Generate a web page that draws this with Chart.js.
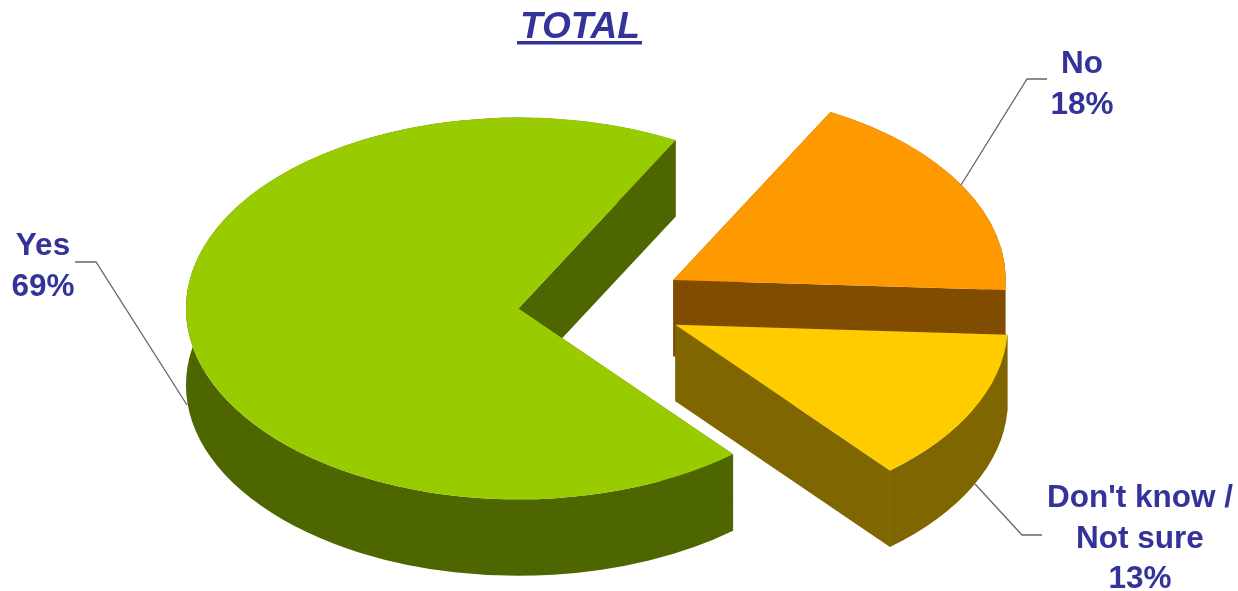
<!DOCTYPE html>
<html>
<head>
<meta charset="utf-8">
<style>html,body{margin:0;padding:0;background:#fff}#wrap{width:1238px;height:591px}</style>
<script src="https://cdn.jsdelivr.net/npm/chart.js@4"></script>
</head>
<body>
<div id="wrap"><canvas id="c" width="1238" height="591"></canvas></div>
<script>
const chartTitle = 'TOTAL';
const categories = ['Yes', 'No', "Don't know /\nNot sure"];
const values = [69, 18, 13];
const topColors = ['#99CC00', '#FF9900', '#FFCC00'];
const sideColors = ['#4D6600', '#804D00', '#806600'];

// presentation only
const TILT = 0.574, DEPTH = 76.5, EXPLODE = 83, RADIUS = 332.5, ROTATION = 139.8;
const INK = '#333399', LINE = '#666666';
const FONT = 'bold 31.5px "Liberation Sans", Arial, sans-serif';
const labelBoxes = [
  {x: 43, y: 255, leader: [[75, 262], [96, 262], [187, 405]]},
  {x: 1082, y: 73, leader: [[1047, 79], [1027, 79], [961, 185]]},
  {x: 1140, y: 507, leader: [[1042, 535], [1022, 535], [975, 484]]}
];
const LINE_H = 40.7;

function centreOf(arc) {
  const mid = (arc.startAngle + arc.endAngle) / 2;
  return {
    x: arc.x + Math.cos(mid) * EXPLODE,
    y: arc.y + Math.sin(mid) * EXPLODE * TILT
  };
}

function drawSides(ctx, arc, color) {
  const c = centreOf(arc), R = arc.outerRadius, r = R * TILT;
  const a = arc.startAngle, b = arc.endAngle;
  const pt = t => [c.x + Math.cos(t) * R, c.y + Math.sin(t) * r];
  ctx.fillStyle = color;
  // radial walls
  [a, b].forEach(t => {
    const p = pt(t);
    ctx.beginPath();
    ctx.moveTo(c.x, c.y);
    ctx.lineTo(p[0], p[1]);
    ctx.lineTo(p[0], p[1] + DEPTH);
    ctx.lineTo(c.x, c.y + DEPTH);
    ctx.closePath();
    ctx.fill();
  });
  // outer rim
  ctx.beginPath();
  ctx.ellipse(c.x, c.y, R, r, 0, a, b, false);
  ctx.ellipse(c.x, c.y + DEPTH, R, r, 0, b, a, true);
  ctx.closePath();
  ctx.fill();
}

const pie3d = {
  id: 'pie3d',
  beforeDatasetDraw(chart, args) {
    const ctx = chart.ctx, arcs = args.meta.data;
    // back slices first, nearest slice last
    [0, 1, 2].forEach(i => {
      const arc = arcs[i];
      const c = centreOf(arc);
      drawSides(ctx, arc, sideColors[i]);
      ctx.save();
      ctx.translate(c.x, c.y);
      ctx.scale(1, TILT);
      ctx.translate(-arc.x, -arc.y);
      arc.draw(ctx);
      ctx.restore();
    });
    return false;
  },
  afterDraw(chart) {
    const ctx = chart.ctx;
    ctx.save();
    // title
    ctx.fillStyle = INK;
    ctx.font = 'italic bold 37px "Liberation Sans", Arial, sans-serif';
    ctx.textAlign = 'center';
    ctx.textBaseline = 'alphabetic';
    ctx.fillText(chartTitle, 580, 38);
    ctx.fillRect(517, 41, 125, 3.5);
    // leaders
    ctx.strokeStyle = LINE;
    ctx.lineWidth = 1.3;
    labelBoxes.forEach(b => {
      ctx.beginPath();
      b.leader.forEach((p, i) => i ? ctx.lineTo(p[0], p[1]) : ctx.moveTo(p[0], p[1]));
      ctx.stroke();
    });
    // labels
    ctx.font = FONT;
    categories.forEach((cat, i) => {
      const lines = cat.split('\n').concat(values[i] + '%');
      lines.forEach((t, j) => ctx.fillText(t, labelBoxes[i].x, labelBoxes[i].y + j * LINE_H));
    });
    ctx.restore();
  }
};

new Chart(document.getElementById('c'), {
  type: 'pie',
  data: {
    labels: categories.map(s => s.replace('\n', ' ')),
    datasets: [{data: values, backgroundColor: topColors, borderWidth: 0}]
  },
  options: {
    responsive: false,
    animation: false,
    events: [],
    rotation: ROTATION,
    radius: RADIUS,
    layout: {padding: {left: 0, right: 36, top: 17, bottom: 1}},
    plugins: {legend: {display: false}, tooltip: {enabled: false}, title: {display: false}}
  },
  plugins: [pie3d]
});
</script>
</body>
</html>
